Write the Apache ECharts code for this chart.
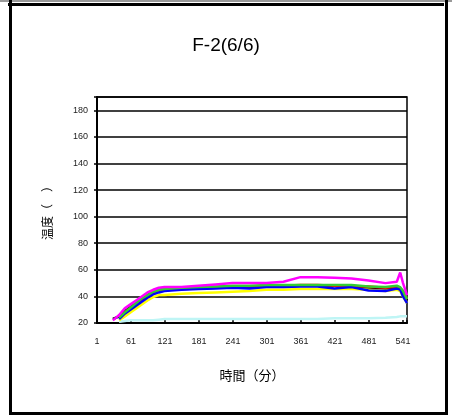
<!DOCTYPE html>
<html>
<head>
<meta charset="utf-8">
<script src="https://cdn.jsdelivr.net/npm/echarts@6/dist/echarts.min.js"></script>
<style>
html, body { margin: 0; padding: 0; background: #fff; }
#chart { width: 452px; height: 415px; }
</style>
</head>
<body>
<div id="chart"></div>
<script>
// 経過時間（分）
const minutes = [29, 40, 50, 60, 70, 80, 90, 100, 110, 120, 150, 180, 210, 240, 270, 300, 330, 360, 390, 420, 450, 480, 510, 530, 536, 541, 548];

const cyanTemp    = [null, 21, 21.5, 22, 22, 22, 22, 22, 22.5, 23, 23, 23, 23, 23, 23, 23, 23, 23, 23, 23.5, 23.5, 23.5, 24, 24.5, 25, 25, 25];
const yellowTemp  = [null, 22, 25, 28, 31, 34, 37, 39.5, 41, 41, 42, 42.5, 43, 43.5, 44, 45, 45, 45.5, 45.5, 45.5, 45.5, 45, 44, 45, 44, 40, 35];
const blueTemp    = [null, 23, 27, 30, 33, 36, 39, 41.5, 43, 44, 45, 45.5, 46, 46.5, 46, 47, 47, 47.5, 47.5, 46, 47, 44.5, 44, 46, 45, 40, 35];
const redTemp     = [null, 24, 28, 31, 34, 37, 40, 43, 44.5, 45, 46, 46.5, 47, 47, 47.5, 48, 48, 48.5, 48.5, 48, 47.5, 47.5, 46.5, 47, 46, 44, 38];
const greenTemp   = [null, 24, 28, 31.5, 35, 38.5, 41, 43.5, 45, 45.5, 46.5, 47, 47.5, 48, 48, 48.5, 48.5, 48.5, 48.5, 48.5, 48.5, 47.5, 47, 48, 47, 44, 38];
const blackTemp   = [23, 25, 29, 32, 35, 38, 41, 43.5, 45, 45.5, 45.5, 46, 46.5, 47, 47, 47.5, 47.5, 48, 48, 48, 47.5, 46.5, 46, 46, 45, 42, 37];
const magentaTemp = [22, 26, 31, 34, 37, 40, 43, 45, 46.5, 47, 47, 48, 49, 50, 50, 50, 51, 54.5, 54.5, 54, 53.5, 52, 50, 51, 58, 50, 41];

// 描画順（下から）
const lines = [
  { name: 'ch7', color: '#bff5f5', temp: cyanTemp },
  { name: 'ch1', color: '#000000', temp: blackTemp },
  { name: 'ch6', color: '#ffff00', temp: yellowTemp },
  { name: 'ch2', color: '#ff0000', temp: redTemp },
  { name: 'ch3', color: '#0000ff', temp: blueTemp },
  { name: 'ch4', color: '#33cc33', temp: greenTemp },
  { name: 'ch5', color: '#ff00ff', temp: magentaTemp }
];

const chart = echarts.init(document.getElementById('chart'));
const option = {
  animation: false,
  backgroundColor: '#fff',
  title: {
    text: 'F-2(6/6)',
    left: 'center',
    top: 31,
    textStyle: { fontFamily: 'Liberation Sans', fontSize: 19, fontWeight: 'normal', color: '#000' }
  },
  grid: {
    left: 97, right: 45, top: 97, bottom: 92,
    show: true, borderColor: '#000', borderWidth: 1.5
  },
  xAxis: {
    type: 'value',
    min: 1, max: 548, interval: 60,
    name: '時間（分）',
    nameLocation: 'middle',
    nameGap: 46,
    nameTextStyle: { fontFamily: 'Noto Sans CJK JP', fontSize: 13, color: '#000' },
    axisLine: { lineStyle: { color: '#000', width: 2 } },
    axisTick: { inside: true, length: 3, lineStyle: { color: '#000', width: 1.5 } },
    axisLabel: {
      margin: 14,
      fontFamily: 'Liberation Sans', fontSize: 9, color: '#222',
      formatter: v => ((v - 1) % 60 === 0 ? String(v) : '')
    },
    splitLine: { show: false }
  },
  yAxis: {
    type: 'value',
    min: 20, max: 190, interval: 20,
    name: '温度（　）',
    nameLocation: 'middle',
    nameGap: 44,
    nameTextStyle: { fontFamily: 'Noto Sans CJK JP', fontSize: 12, color: '#000' },
    axisLine: { show: true, lineStyle: { color: '#000', width: 2 } },
    axisTick: { show: true, length: 3, lineStyle: { color: '#000', width: 1.5 } },
    axisLabel: {
      margin: 9,
      fontFamily: 'Liberation Sans', fontSize: 9, color: '#222',
      formatter: v => (v > 180 ? '' : String(v))
    },
    splitLine: { lineStyle: { color: '#000', width: 1.5 } }
  },
  series: lines.map(l => ({
    name: l.name,
    type: 'line',
    symbol: 'none',
    connectNulls: false,
    lineStyle: { color: l.color, width: 2.5 },
    data: minutes.map((m, i) => [m, l.temp[i]])
  })),
  graphic: [
    { type: 'rect', shape: { x: 0, y: 0, width: 452, height: 2 }, style: { fill: '#999' } },
    { type: 'rect', shape: { x: 8, y: 3, width: 436, height: 3 }, style: { fill: '#000' } },
    { type: 'rect', shape: { x: 9, y: 0, width: 3, height: 415 }, style: { fill: '#000' } },
    { type: 'rect', shape: { x: 445, y: 0, width: 3, height: 415 }, style: { fill: '#000' } },
    { type: 'rect', shape: { x: 9, y: 412, width: 439, height: 3 }, style: { fill: '#000' } }
  ]
};
chart.setOption(option);
</script>
</body>
</html>
